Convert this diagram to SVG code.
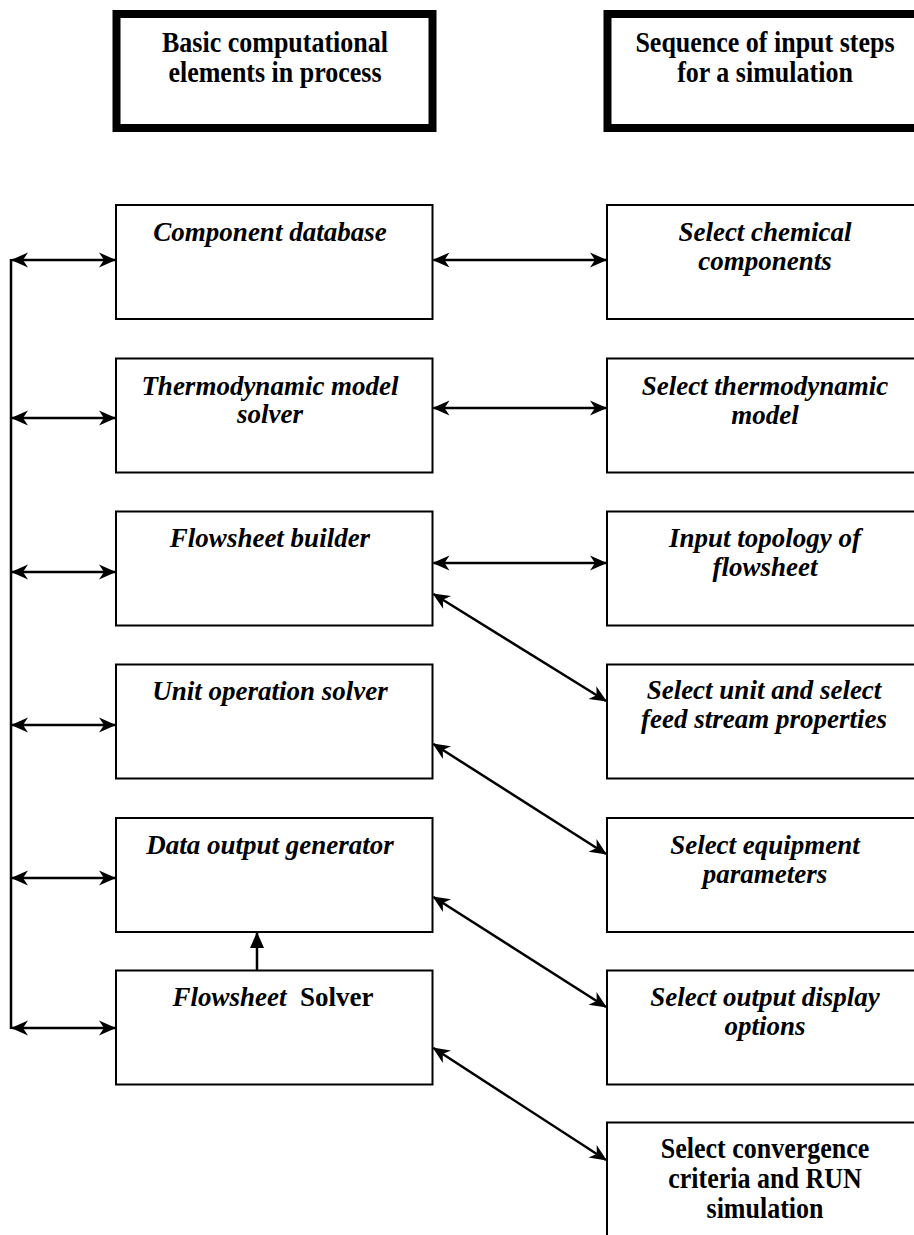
<svg xmlns="http://www.w3.org/2000/svg" width="914" height="1235" viewBox="0 0 914 1235">
<style>
.box{fill:#fff;stroke:#000;stroke-width:2}
.hdr{fill:#fff;stroke:#000;stroke-width:8}
.t{font-family:"Liberation Serif","Times New Roman",serif;font-weight:bold;font-style:italic;font-size:27px;fill:#000;text-anchor:middle}
.h{font-family:"Liberation Serif","Times New Roman",serif;font-weight:bold;font-size:26px;fill:#000;text-anchor:middle}
.up{font-style:normal}
.c{stroke:#000;stroke-width:2.5;fill:none}
</style>
<defs>
<marker id="ah" markerUnits="userSpaceOnUse" markerWidth="24" markerHeight="24" viewBox="-20 -12 24 24" refX="0" refY="0" orient="auto-start-reverse">
<path d="M1,0 L-16,-7.5 L-11,0 L-16,7.5 Z" fill="#000"/>
</marker>
<marker id="tri" markerUnits="userSpaceOnUse" markerWidth="24" markerHeight="24" viewBox="-20 -12 24 24" refX="0" refY="0" orient="auto">
<path d="M1,0 L-15,-7 L-15,7 Z" fill="#000"/>
</marker>
</defs>

<g id="hdr-left">
<rect class="hdr" x="116.5" y="14" width="316" height="114"/>
<text class="h" transform="translate(275,52) scale(1,1.12)">Basic computational</text>
<text class="h" transform="translate(275,82) scale(1,1.12)">elements in process</text>
</g>
<g id="hdr-right">
<rect class="hdr" x="607.5" y="14" width="316" height="114"/>
<text class="h" transform="translate(765,52) scale(1,1.12)">Sequence of input steps</text>
<text class="h" transform="translate(765,82) scale(1,1.12)">for a simulation</text>
</g>

<g id="L1"><rect class="box" x="116" y="205" width="316.5" height="114"/>
<text class="t" x="270" y="241">Component database</text></g>
<g id="L2"><rect class="box" x="116" y="358.5" width="316.5" height="114"/>
<text class="t" x="270" y="395">Thermodynamic model</text>
<text class="t" x="270" y="423">solver</text></g>
<g id="L3"><rect class="box" x="116" y="511.5" width="316.5" height="114"/>
<text class="t" x="270" y="547">Flowsheet builder</text></g>
<g id="L4"><rect class="box" x="116" y="664.5" width="316.5" height="114"/>
<text class="t" x="270" y="700">Unit operation solver</text></g>
<g id="L5"><rect class="box" x="116" y="818" width="316.5" height="114"/>
<text class="t" x="270" y="854">Data output generator</text></g>
<g id="L6"><rect class="box" x="116" y="970.5" width="316.5" height="114"/>
<text class="t" x="273" y="1006">Flowsheet&#160;<tspan class="up"> Solver</tspan></text></g>

<g id="R1"><rect class="box" x="607" y="205" width="320" height="114"/>
<text class="t" x="765" y="241">Select chemical</text>
<text class="t" x="765" y="270">components</text></g>
<g id="R2"><rect class="box" x="607" y="358.5" width="320" height="114"/>
<text class="t" x="765" y="395">Select thermodynamic</text>
<text class="t" x="765" y="424">model</text></g>
<g id="R3"><rect class="box" x="607" y="511.5" width="320" height="114"/>
<text class="t" x="765" y="547">Input topology of</text>
<text class="t" x="765" y="576">flowsheet</text></g>
<g id="R4"><rect class="box" x="607" y="664.5" width="320" height="114"/>
<text class="t" x="764" y="699">Select unit and select</text>
<text class="t" x="764" y="728">feed stream properties</text></g>
<g id="R5"><rect class="box" x="607" y="818" width="320" height="114"/>
<text class="t" x="765" y="854">Select equipment</text>
<text class="t" x="765" y="883">parameters</text></g>
<g id="R6"><rect class="box" x="607" y="970.5" width="320" height="114"/>
<text class="t" x="765" y="1006">Select output display</text>
<text class="t" x="765" y="1035">options</text></g>
<g id="R7"><rect class="box" x="607" y="1122.5" width="320" height="140"/>
<text class="h" transform="translate(765,1158) scale(1,1.12)">Select convergence</text>
<text class="h" transform="translate(765,1188) scale(1,1.12)">criteria and RUN</text>
<text class="h" transform="translate(765,1218) scale(1,1.12)">simulation</text></g>

<g id="connectors">
<line class="c" x1="11" y1="259" x2="11" y2="1029"/>
<line class="c" x1="12" y1="260" x2="115" y2="260" marker-start="url(#ah)" marker-end="url(#ah)"/>
<line class="c" x1="12" y1="418" x2="115" y2="418" marker-start="url(#ah)" marker-end="url(#ah)"/>
<line class="c" x1="12" y1="572" x2="115" y2="572" marker-start="url(#ah)" marker-end="url(#ah)"/>
<line class="c" x1="12" y1="725" x2="115" y2="725" marker-start="url(#ah)" marker-end="url(#ah)"/>
<line class="c" x1="12" y1="878" x2="115" y2="878" marker-start="url(#ah)" marker-end="url(#ah)"/>
<line class="c" x1="12" y1="1028" x2="115" y2="1028" marker-start="url(#ah)" marker-end="url(#ah)"/>
<line class="c" x1="433.5" y1="260" x2="606" y2="260" marker-start="url(#ah)" marker-end="url(#ah)"/>
<line class="c" x1="433.5" y1="408" x2="606" y2="408" marker-start="url(#ah)" marker-end="url(#ah)"/>
<line class="c" x1="433.5" y1="563" x2="606" y2="563" marker-start="url(#ah)" marker-end="url(#ah)"/>
<line class="c" x1="433.5" y1="594" x2="606" y2="701" marker-start="url(#ah)" marker-end="url(#ah)"/>
<line class="c" x1="433.5" y1="744" x2="606" y2="854" marker-start="url(#ah)" marker-end="url(#ah)"/>
<line class="c" x1="433.5" y1="897" x2="606" y2="1007" marker-start="url(#ah)" marker-end="url(#ah)"/>
<line class="c" x1="433.5" y1="1048" x2="606" y2="1160" marker-start="url(#ah)" marker-end="url(#ah)"/>
<line class="c" x1="257" y1="970" x2="257" y2="933" marker-end="url(#tri)"/>
</g>
</svg>
